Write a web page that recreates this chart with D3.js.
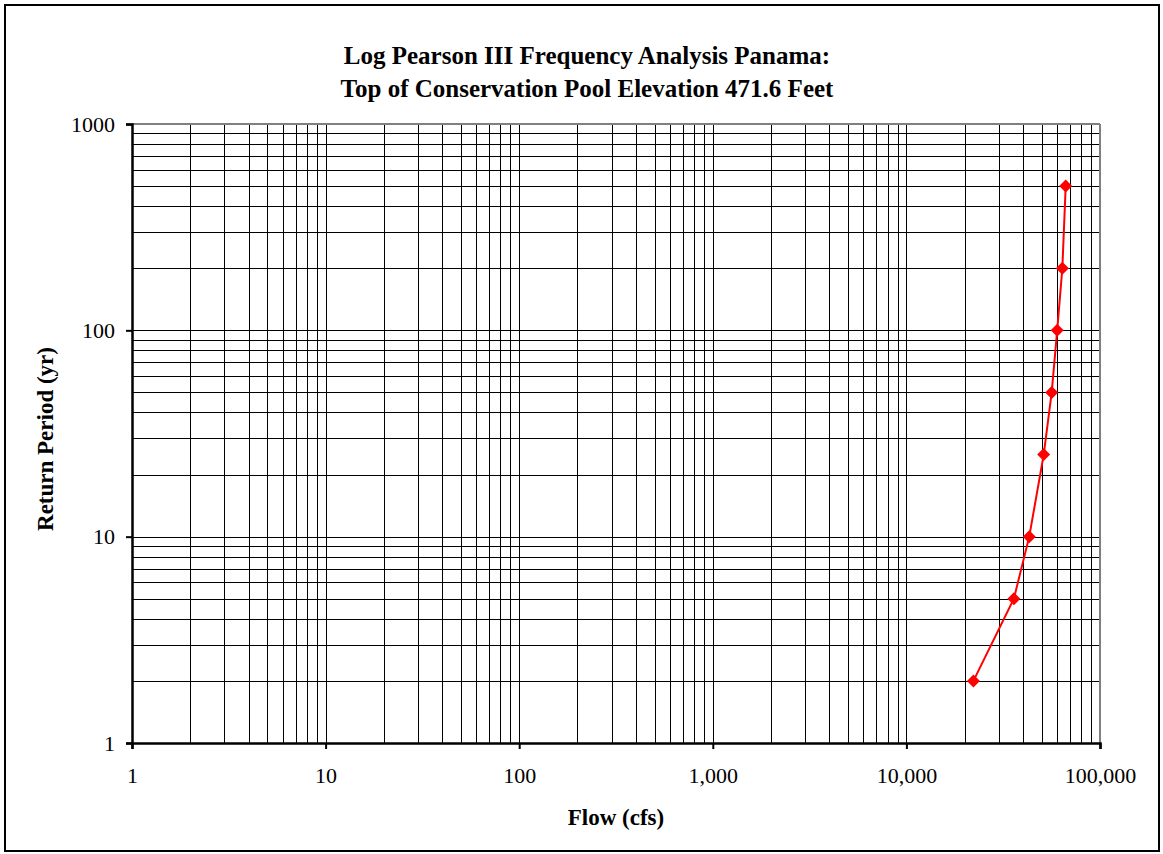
<!DOCTYPE html>
<html><head><meta charset="utf-8">
<script src="https://cdn.jsdelivr.net/npm/d3@7"></script>
<style>body{margin:0;background:#fff}svg{display:block}text{font-family:"Liberation Serif","Times New Roman",serif}</style>
</head><body><div id="chart"></div>
<script>
const returnPeriods = [2, 5, 10, 25, 50, 100, 200, 500];
const flows = [22200, 35900, 43100, 51200, 56300, 60100, 63900, 66500];
const xTickValues = [1, 10, 100, 1000, 10000, 100000];
const yTickValues = [1, 10, 100, 1000];
const titleLines = ["Log Pearson III Frequency Analysis Panama:", "Top of Conservation Pool Elevation 471.6 Feet"];
const xTitle = "Flow (cfs)";
const yTitle = "Return Period (yr)";

const W = 1163, H = 854;
const plot = {l: 132, r: 1100, t: 124, b: 743};
const svg = d3.select("#chart").append("svg").attr("width", W).attr("height", H);
svg.append("rect").attr("x", 5).attr("y", 5).attr("width", 1154).attr("height", 846)
  .attr("fill", "#fff").attr("stroke", "#000").attr("stroke-width", 2);

const x = d3.scaleLog().domain([1, 100000]).range([plot.l, plot.r]);
const y = d3.scaleLog().domain([1, 1000]).range([plot.b, plot.t]);

// gridlines (major + minor)
const xGrid = [];
for (let d = 1; d < 100000; d *= 10) for (let k = 1; k <= 9; k++) xGrid.push(d * k);
xGrid.push(100000);
const yGrid = [];
for (let d = 1; d < 1000; d *= 10) for (let k = 1; k <= 9; k++) yGrid.push(d * k);
yGrid.push(1000);
const g = svg.append("g");
g.selectAll("line.xg").data(xGrid).join("line")
  .attr("x1", d => Math.round(x(d)) + 0.5).attr("x2", d => Math.round(x(d)) + 0.5)
  .attr("y1", plot.t).attr("y2", plot.b).attr("stroke", "#000").attr("stroke-width", 1);
g.selectAll("line.yg").data(yGrid).join("line")
  .attr("y1", d => Math.round(y(d)) + 0.5).attr("y2", d => Math.round(y(d)) + 0.5)
  .attr("x1", plot.l).attr("x2", plot.r).attr("stroke", "#000").attr("stroke-width", 1);

// plot border top/right gray
svg.append("line").attr("x1", plot.l).attr("x2", plot.r).attr("y1", plot.t).attr("y2", plot.t)
  .attr("stroke", "#808080").attr("stroke-width", 2);
svg.append("line").attr("x1", plot.r).attr("x2", plot.r).attr("y1", plot.t).attr("y2", plot.b)
  .attr("stroke", "#808080").attr("stroke-width", 2);

const fmt = d3.format(",");
const xAxis = svg.append("g").attr("transform", `translate(0,${plot.b})`)
  .call(d3.axisBottom(x).tickValues(xTickValues).tickFormat(fmt).tickSizeOuter(0).tickSize(6).tickPadding(18));
const yAxis = svg.append("g").attr("transform", `translate(${plot.l},0)`)
  .call(d3.axisLeft(y).tickValues(yTickValues).tickFormat(d3.format("d")).tickSizeOuter(0).tickSize(6).tickPadding(11));
[xAxis, yAxis].forEach(a => {
  a.attr("font-size", 22).attr("font-family", "Liberation Serif, serif");
  a.select(".domain").attr("stroke", "#000").attr("stroke-width", 2.5);
  a.selectAll(".tick line").attr("stroke", "#000").attr("stroke-width", 2);
  a.selectAll(".tick text").attr("fill", "#000");
});

// series
const data = returnPeriods.map((r, i) => ({r, q: flows[i]}));
svg.append("path").datum(data)
  .attr("d", d3.line().x(d => x(d.q)).y(d => y(d.r)))
  .attr("fill", "none").attr("stroke", "#ff0000").attr("stroke-width", 2);
svg.selectAll("path.mk").data(data).join("path")
  .attr("transform", d => `translate(${x(d.q)},${y(d.r)})`)
  .attr("d", "M0,-6.5L6.5,0L0,6.5L-6.5,0Z").attr("fill", "#ff0000");

// titles
svg.append("text").attr("text-anchor", "middle").attr("font-weight", "bold").attr("font-size", 25)
  .selectAll("tspan").data(titleLines).join("tspan").attr("x", 587).attr("y", (d, i) => 64 + i * 33).text(d => d);
svg.append("text").attr("x", (plot.l + plot.r) / 2).attr("y", 825).attr("text-anchor", "middle")
  .attr("font-weight", "bold").attr("font-size", 23).text(xTitle);
svg.append("text").attr("transform", `translate(53,439) rotate(-90)`)
  .attr("text-anchor", "middle").attr("font-weight", "bold").attr("font-size", 23).text(yTitle);
</script></body></html>
